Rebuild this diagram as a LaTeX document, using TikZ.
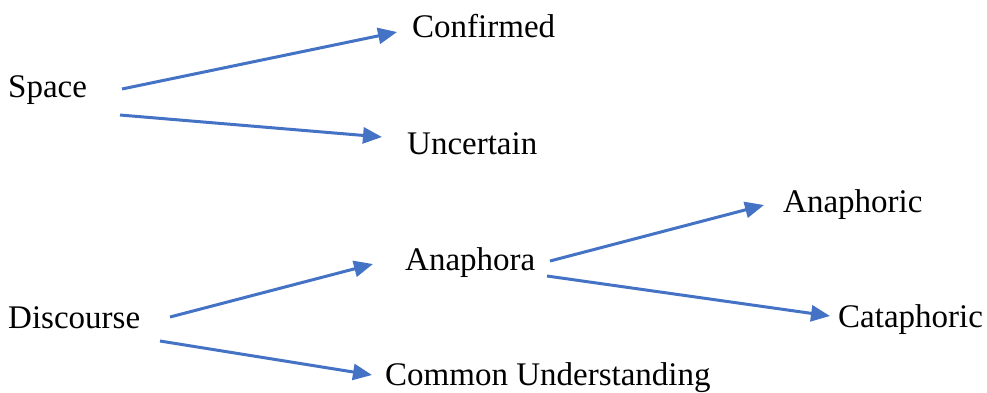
\documentclass[tikz,border=0pt]{standalone}
\usepackage{fontspec}
\setmainfont{Liberation Serif}
\usetikzlibrary{arrows.meta}
\definecolor{arrblue}{HTML}{4472C4}
\tikzset{
  lbl/.style={inner sep=0pt, anchor=base west, font=\fontsize{33}{37}\selectfont},
  arr/.style={draw=arrblue, line width=3pt, -{Triangle[length=19pt,width=16pt]}}
}
\begin{document}
\begin{tikzpicture}[x=1pt,y=-1pt]
\useasboundingbox (0,0) rectangle (987,392);
\node[lbl] (space) at (8,97) {Space};
\node[lbl] (conf) at (412,37) {Confirmed};
\node[lbl] (unc) at (407,154) {Uncertain};
\node[lbl] (disc) at (8,328) {Discourse};
\node[lbl] (anaph) at (405,270) {Anaphora};
\node[lbl] (anaic) at (783,212) {Anaphoric};
\node[lbl] (cata) at (838,327) {Cataphoric};
\node[lbl] (common) at (385,385) {Common Understanding};
\draw[arr] ([shift={(114,-8)}]space.base west) -- ([shift={(-15,-5)}]conf.base west);
\draw[arr] ([shift={(112,18)}]space.base west) -- ([shift={(-25,-17)}]unc.base west);
\draw[arr] ([shift={(162,-11)}]disc.base west) -- ([shift={(-32,-6)}]anaph.base west);
\draw[arr] ([shift={(152,13)}]disc.base west) -- ([shift={(-13,-10)}]common.base west);
\draw[arr] ([shift={(145,-9)}]anaph.base west) -- ([shift={(-19,-7)}]anaic.base west);
\draw[arr] ([shift={(142,6)}]anaph.base west) -- ([shift={(-8,-11)}]cata.base west);
\end{tikzpicture}
\end{document}
